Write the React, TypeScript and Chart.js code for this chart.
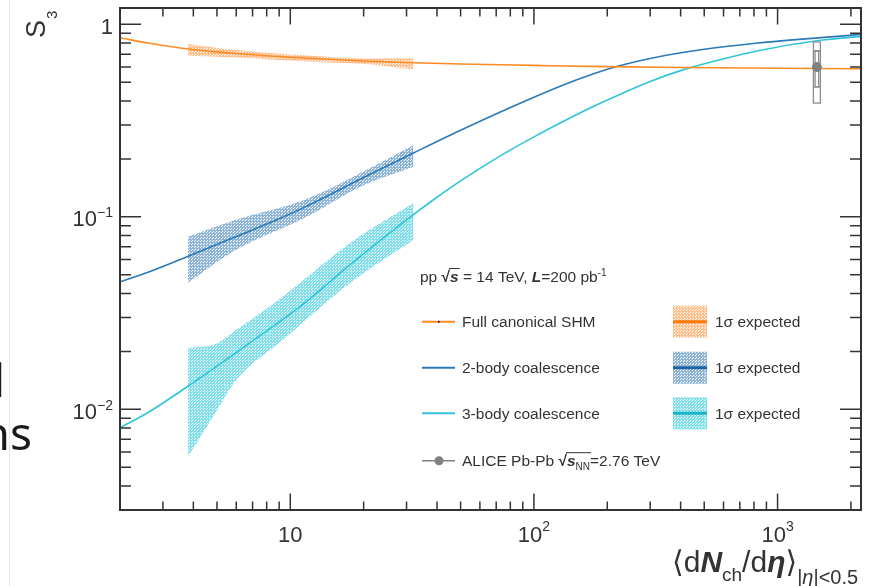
import React, { useEffect, useRef } from 'react';
import { Chart, registerables } from 'chart.js';
Chart.register(...registerables);

const W = 871;
const H = 586;
const FONT = '"Liberation Sans", "DejaVu Sans", Arial, sans-serif';
const TXT = '#333333';

// ---- axis ranges ----
const xRange = [2, 2200];
const yRange = [0.003, 1.216];

// ---- Full canonical SHM ----
const shmX = [2, 2.64, 3.8, 6, 10, 20, 32, 50, 100, 200, 400, 1000, 2200];
const shmY = [0.852, 0.797, 0.745, 0.705, 0.675, 0.645, 0.632, 0.622, 0.612, 0.603, 0.597, 0.592, 0.588];
const shmBandX = [3.8, 6, 11.4, 20, 32];
const shmBandHi = [0.79, 0.735, 0.69, 0.665, 0.666];
const shmBandLo = [0.687, 0.672, 0.642, 0.622, 0.584];

// ---- 2-body coalescence ----
const c2X = [2, 2.64, 3.77, 6, 8.76, 11.4, 20, 32, 50, 100, 150, 200, 300, 500, 832, 2200];
const c2Y = [0.0459, 0.0519, 0.0621, 0.079, 0.0962, 0.112, 0.16, 0.2145, 0.2817, 0.418, 0.515, 0.585, 0.665, 0.742, 0.8, 0.887];
const c2BandX = [3.8, 6, 11.4, 20, 32];
const c2BandHi = [0.0788, 0.0966, 0.1223, 0.172, 0.236];
const c2BandLo = [0.0455, 0.0674, 0.0986, 0.146, 0.182];

// ---- 3-body coalescence ----
const c3X = [2, 2.64, 3.77, 6.8, 11.4, 17.5, 29.9, 40, 50, 70, 100, 150, 200, 300, 400, 600, 832, 1500, 2200];
const c3Y = [0.00802, 0.00972, 0.0131, 0.0221, 0.0355, 0.0562, 0.0962, 0.1264, 0.1538, 0.2013, 0.2602, 0.34, 0.4041, 0.505, 0.575, 0.662, 0.73, 0.826, 0.866];
const c3BandX = [3.8, 5, 6, 9.3, 17.5, 32];
const c3BandHi = [0.0208, 0.022, 0.0258, 0.0385, 0.0728, 0.118];
const c3BandLo = [0.00567, 0.0099, 0.0142, 0.0229, 0.0451, 0.0758];

// ---- ALICE Pb-Pb ----
const aliceX = [1450];
const aliceY = [0.6];
const aliceOuterLo = [0.39];
const aliceOuterHi = [0.81];
const aliceInnerLo = [0.473];
const aliceInnerHi = [0.727];

// ---- ticks ----
const xMajor = [10, 100, 1000];
const xMinor = [2, 3, 4, 5, 6, 7, 8, 9, 20, 30, 40, 50, 60, 70, 80, 90, 200, 300, 400, 500, 600, 700, 800, 900, 2000];
const xLabelBase = ['10', '10', '10'];
const xLabelExp = ['', '2', '3'];
const yMajor = [0.01, 0.1, 1];
const yMinor = [0.003, 0.004, 0.005, 0.006, 0.007, 0.008, 0.009, 0.02, 0.03, 0.04, 0.05, 0.06, 0.07, 0.08, 0.09, 0.2, 0.3, 0.4, 0.5, 0.6, 0.7, 0.8, 0.9];
const yLabelBase = ['10', '10', '1'];
const yLabelExp = ['\u22122', '\u22121', ''];

// ---- legend ----
const legendNames = ['Full canonical SHM', '2-body coalescence', '3-body coalescence'];
const bandLabel = '1\u03c3 expected';

const ORANGE = '#ff8a22';
const BLUE = '#2a7ab8';
const CYAN = '#2fc5d8';

function pts(xs: number[], ys: number[]) {
  return xs.map((x, i) => ({ x, y: ys[i] }));
}

function makePattern(ctx: CanvasRenderingContext2D, rgb: string, alpha: number) {
  const c = document.createElement('canvas');
  c.width = 3;
  c.height = 3;
  const g = c.getContext('2d')!;
  g.fillStyle = `rgba(${rgb},${alpha})`;
  g.fillRect(0, 0, 3, 3);
  g.clearRect(0, 0, 1, 1);
  g.clearRect(2, 1, 1, 1);
  return ctx.createPattern(c, 'repeat')!;
}

type Seg = { t: string; font: string; dy?: number; over?: boolean; sp?: number };

function rich(ctx: CanvasRenderingContext2D, x: number, y: number, segs: Seg[], draw = true) {
  let cx = x;
  let overStart = -1;
  let overEnd = -1;
  for (const s of segs) {
    ctx.font = s.font;
    const w = ctx.measureText(s.t).width;
    if (draw) ctx.fillText(s.t, cx, y + (s.dy || 0));
    if (s.over) {
      if (overStart < 0) overStart = cx;
      overEnd = cx + w;
    }
    cx += w + (s.sp || 0);
  }
  if (draw && overStart >= 0) {
    ctx.save();
    ctx.lineWidth = 1;
    ctx.strokeStyle = ctx.fillStyle as string;
    ctx.beginPath();
    ctx.moveTo(overStart - 1, y - 13.5);
    ctx.lineTo(overEnd + 1, y - 13.5);
    ctx.stroke();
    ctx.restore();
  }
  return cx - x;
}

export default function App() {
  const ref = useRef<HTMLCanvasElement>(null);

  useEffect(() => {
    const canvas = ref.current!;
    const ctx0 = canvas.getContext('2d')!;
    const patO = makePattern(ctx0, '255,140,50', 0.55);
    const patB = makePattern(ctx0, '40,115,180', 0.52);
    const patC = makePattern(ctx0, '40,200,222', 0.58);

    const band = (label: string, xs: number[], hi: number[], lo: number[], pat: CanvasPattern) => [
      {
        label: label + '_hi',
        data: pts(xs, hi),
        borderWidth: 0,
        borderColor: 'rgba(0,0,0,0)',
        backgroundColor: pat,
        fill: '+1',
        pointRadius: 0,
        cubicInterpolationMode: 'monotone',
        order: 3,
      },
      {
        label: label + '_lo',
        data: pts(xs, lo),
        borderWidth: 0,
        borderColor: 'rgba(0,0,0,0)',
        fill: false,
        pointRadius: 0,
        cubicInterpolationMode: 'monotone',
        order: 3,
      },
    ];

    const line = (label: string, xs: number[], ys: number[], color: string) => ({
      label,
      data: pts(xs, ys),
      borderColor: color,
      borderWidth: 1.6,
      fill: false,
      pointRadius: 0,
      cubicInterpolationMode: 'monotone',
      order: 1,
    });

    const framePlugin = {
      id: 'rootFrame',
      beforeDraw(chart: any) {
        const ctx = chart.ctx as CanvasRenderingContext2D;
        ctx.save();
        ctx.fillStyle = '#ffffff';
        ctx.fillRect(0, 0, W, H);
        // slide remnants at the left edge
        ctx.strokeStyle = '#e6e6e6';
        ctx.lineWidth = 1;
        ctx.beginPath();
        ctx.moveTo(9.5, 0);
        ctx.lineTo(9.5, H);
        ctx.stroke();
        ctx.fillStyle = '#1a1a1a';
        ctx.font = '46px "Noto Sans", "Open Sans", sans-serif';
        ctx.textAlign = 'right';
        ctx.fillText('l', 5, 397);
        ctx.fillText('ns', 32, 450);
        ctx.restore();
      },
      beforeDatasetDraw(chart: any, args: any) {
        const ds = chart.data.datasets[args.index];
        if (ds.label !== 'ALICE') return;
        const ctx = chart.ctx as CanvasRenderingContext2D;
        const xs = chart.scales.x;
        const ys = chart.scales.y;
        ctx.save();
        for (let i = 0; i < aliceX.length; i++) {
          const cx = xs.getPixelForValue(aliceX[i]);
          const yo1 = ys.getPixelForValue(aliceOuterHi[i]);
          const yo2 = ys.getPixelForValue(aliceOuterLo[i]);
          const yi1 = ys.getPixelForValue(aliceInnerHi[i]);
          const yi2 = ys.getPixelForValue(aliceInnerLo[i]);
          ctx.fillStyle = 'rgba(255,255,255,0.85)';
          ctx.fillRect(cx - 3.5, yo1, 7, yo2 - yo1);
          ctx.strokeStyle = '#8c8c8c';
          ctx.lineWidth = 1.3;
          ctx.strokeRect(cx - 3.5, yo1, 7, yo2 - yo1);
          ctx.strokeRect(cx - 1.8, yi1, 3.6, yi2 - yi1);
          ctx.beginPath();
          ctx.moveTo(cx - 3.5, yi1);
          ctx.lineTo(cx + 3.5, yi1);
          ctx.moveTo(cx - 3.5, yi2);
          ctx.lineTo(cx + 3.5, yi2);
          ctx.stroke();
        }
        ctx.restore();
      },
      afterDraw(chart: any) {
        const ctx = chart.ctx as CanvasRenderingContext2D;
        const a = chart.chartArea;
        const xs = chart.scales.x;
        const ys = chart.scales.y;
        ctx.save();
        ctx.strokeStyle = '#333333';
        // ticks
        ctx.lineWidth = 1.5;
        ctx.beginPath();
        const xt = (v: number, len: number) => {
          const px = xs.getPixelForValue(v);
          ctx.moveTo(px, a.bottom);
          ctx.lineTo(px, a.bottom - len);
          ctx.moveTo(px, a.top);
          ctx.lineTo(px, a.top + len);
        };
        const yt = (v: number, len: number) => {
          const py = ys.getPixelForValue(v);
          ctx.moveTo(a.left, py);
          ctx.lineTo(a.left + len, py);
          ctx.moveTo(a.right, py);
          ctx.lineTo(a.right - len, py);
        };
        xMajor.forEach((v) => xt(v, 16.5));
        xMinor.forEach((v) => xt(v, 8.5));
        yMajor.forEach((v) => yt(v, 21));
        yMinor.forEach((v) => yt(v, 11));
        ctx.stroke();
        // frame
        ctx.lineWidth = 2;
        ctx.strokeRect(a.left, a.top, a.right - a.left, a.bottom - a.top);

        ctx.fillStyle = TXT;
        ctx.textBaseline = 'alphabetic';
        const big = `22px ${FONT}`;
        const sup = `14px ${FONT}`;
        // x tick labels
        xMajor.forEach((v, i) => {
          const px = xs.getPixelForValue(v);
          const segs: Seg[] = [{ t: xLabelBase[i], font: big }];
          if (xLabelExp[i]) segs.push({ t: xLabelExp[i], font: sup, dy: -11 });
          const w = rich(ctx, 0, 0, segs, false);
          ctx.textAlign = 'left';
          rich(ctx, px - w / 2, 542, segs);
        });
        // y tick labels
        yMajor.forEach((v, i) => {
          const py = ys.getPixelForValue(v);
          const segs: Seg[] = [{ t: yLabelBase[i], font: big }];
          if (yLabelExp[i]) segs.push({ t: yLabelExp[i], font: sup, dy: -9 });
          const w = rich(ctx, 0, 0, segs, false);
          rich(ctx, 113 - w, py + 9.5, segs);
        });

        // y axis title S_3 (rotated)
        ctx.save();
        ctx.translate(45, 38);
        ctx.rotate(-Math.PI / 2);
        ctx.font = `27px ${FONT}`;
        ctx.fillText('S', 0, 0);
        const sw = ctx.measureText('S').width;
        ctx.font = `15px ${FONT}`;
        ctx.fillText('3', sw + 1, 12);
        ctx.restore();

        // x axis title
        const t27 = `30px ${FONT}`;
        const b27 = `italic bold 30px ${FONT}`;
        const s17 = `19px ${FONT}`;
        const s15 = `20px ${FONT}`;
        const s15i = `italic 20px ${FONT}`;
        rich(ctx, 672, 572, [
          { t: '\u27e8', font: t27 },
          { t: 'd', font: t27 },
          { t: 'N', font: b27 },
          { t: 'ch', font: s17, dy: 9 },
          { t: '/d', font: t27 },
          { t: '\u03b7', font: b27 },
          { t: '\u27e9', font: t27 },
          { t: '|', font: s15, dy: 12 },
          { t: '\u03b7', font: s15i, dy: 12 },
          { t: '|<0.5', font: s15, dy: 12 },
        ]);

        // ---- legend ----
        const lf = `15.5px ${FONT}`;
        const lbi = `italic bold 15.5px ${FONT}`;
        const lb = `bold 15.5px ${FONT}`;
        const lsub = `10px ${FONT}`;
        rich(ctx, 420, 282, [
          { t: 'pp ', font: lf },
          { t: '\u221a', font: lb },
          { t: 's', font: lbi, over: true },
          { t: ' = 14 TeV, ', font: lf },
          { t: 'L', font: lbi },
          { t: '=200 pb', font: lf },
          { t: '-1', font: lsub, dy: -6 },
        ]);
        const rowsY = [321.7, 367.7, 413.3];
        const cols = [ORANGE, BLUE, CYAN];
        const bandLine = ['#ff7a0a', '#1d63a3', '#17b5c8'];
        const pats = [patO, patB, patC];
        rowsY.forEach((ry, i) => {
          ctx.strokeStyle = cols[i];
          ctx.lineWidth = 2;
          ctx.beginPath();
          ctx.moveTo(422, ry);
          ctx.lineTo(455, ry);
          ctx.stroke();
          ctx.fillStyle = TXT;
          ctx.font = lf;
          ctx.fillText(legendNames[i], 462, ry + 5.5);
          // band sample
          ctx.fillStyle = pats[i];
          ctx.fillRect(673, ry - 16, 34, 32);
          ctx.strokeStyle = bandLine[i];
          ctx.lineWidth = 3;
          ctx.beginPath();
          ctx.moveTo(673, ry);
          ctx.lineTo(707, ry);
          ctx.stroke();
          ctx.fillStyle = TXT;
          ctx.font = lf;
          ctx.fillText(bandLabel, 715, ry + 5.5);
        });
        // tiny marker on SHM legend line
        ctx.fillStyle = '#000';
        ctx.fillRect(438, rowsY[0] - 0.8, 1.6, 1.6);
        // ALICE row
        const ay = 460.7;
        ctx.strokeStyle = '#808080';
        ctx.lineWidth = 1.6;
        ctx.beginPath();
        ctx.moveTo(422, ay);
        ctx.lineTo(455, ay);
        ctx.stroke();
        ctx.fillStyle = '#808080';
        ctx.beginPath();
        ctx.arc(439, ay, 4.5, 0, Math.PI * 2);
        ctx.fill();
        ctx.fillStyle = TXT;
        rich(ctx, 462, ay + 5.5, [
          { t: 'ALICE Pb-Pb ', font: lf },
          { t: '\u221a', font: lb },
          { t: 's', font: lbi, over: true },
          { t: 'NN', font: lsub, dy: 4, over: true },
          { t: '=2.76 TeV', font: lf },
        ]);
        ctx.restore();
      },
    };

    const chart = new Chart(canvas, {
      type: 'line',
      data: {
        datasets: [
          ...band('shm', shmBandX, shmBandHi, shmBandLo, patO),
          ...band('c2', c2BandX, c2BandHi, c2BandLo, patB),
          ...band('c3', c3BandX, c3BandHi, c3BandLo, patC),
          line('Full canonical SHM', shmX, shmY, ORANGE),
          line('2-body coalescence', c2X, c2Y, BLUE),
          line('3-body coalescence', c3X, c3Y, CYAN),
          {
            label: 'ALICE',
            data: pts(aliceX, aliceY),
            showLine: false,
            pointRadius: 4.5,
            pointBackgroundColor: '#808080',
            pointBorderColor: '#808080',
            borderColor: '#808080',
            order: 0,
          },
        ] as any,
      },
      options: {
        animation: false,
        responsive: false,
        devicePixelRatio: 1,
        layout: { padding: { left: 120, top: 8, right: 10, bottom: 76 } },
        scales: {
          x: { type: 'logarithmic', min: xRange[0], max: xRange[1], display: false },
          y: { type: 'logarithmic', min: yRange[0], max: yRange[1], display: false },
        },
        plugins: { legend: { display: false }, tooltip: { enabled: false } },
        elements: { point: { radius: 0 } },
      } as any,
      plugins: [framePlugin],
    });
    return () => chart.destroy();
  }, []);

  return (
    <div style={{ position: 'fixed', left: 0, top: 0, width: W, height: H, background: '#fff' }}>
      <canvas ref={ref} width={W} height={H} style={{ width: W, height: H, display: 'block' }} />
    </div>
  );
}
